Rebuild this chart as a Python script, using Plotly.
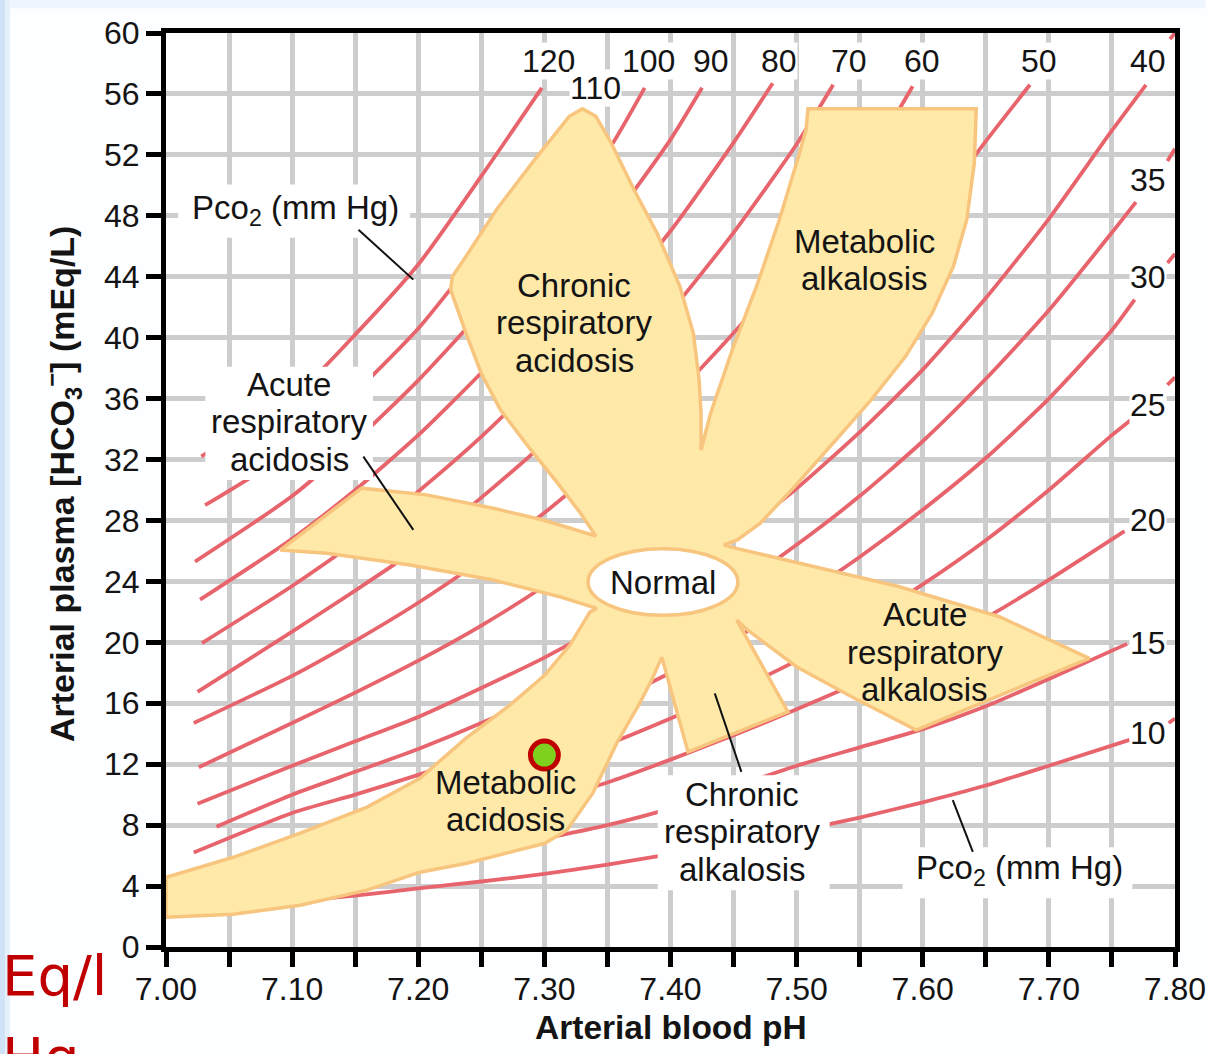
import plotly.graph_objects as go

# ---------------- data ----------------
pco2_levels = [120, 110, 100, 90, 80, 70, 60, 50, 40, 35, 30, 25, 20, 15, 10]

ph_120 = [7.028, 7.10, 7.15, 7.20, 7.25, 7.298]
hco3_120 = [32.2, 36.0, 40.2, 44.8, 50.6, 56.4]

ph_110 = [7.031, 7.10, 7.15, 7.20, 7.25, 7.30, 7.32]
hco3_110 = [29.0, 32.6, 36.4, 40.6, 45.8, 51.6, 54.0]

ph_100 = [7.023, 7.10, 7.15, 7.20, 7.25, 7.30, 7.35, 7.3795]
hco3_100 = [25.3, 29.6, 33.2, 37.2, 41.7, 46.8, 52.2, 56.4]

ph_90 = [7.027, 7.10, 7.15, 7.20, 7.25, 7.30, 7.35, 7.40, 7.425]
hco3_90 = [22.8, 26.8, 30.0, 33.6, 37.7, 42.3, 47.3, 53.0, 56.4]

ph_80 = [7.0285, 7.10, 7.15, 7.20, 7.25, 7.30, 7.35, 7.40, 7.45, 7.481]
hco3_80 = [19.95, 23.7, 26.6, 29.9, 33.5, 37.6, 42.1, 47.0, 52.8, 56.7]

ph_70 = [7.025, 7.10, 7.15, 7.20, 7.25, 7.30, 7.35, 7.40, 7.45, 7.50, 7.529]
hco3_70 = [16.75, 20.7, 23.4, 26.2, 29.5, 33.1, 37.1, 41.7, 46.9, 52.7, 56.6]

ph_60 = [7.022, 7.10, 7.15, 7.20, 7.25, 7.30, 7.35, 7.40, 7.45, 7.50, 7.55, 7.592]
hco3_60 = [14.7, 17.8, 20.1, 22.6, 25.4, 28.5, 32.0, 35.9, 40.3, 45.2, 50.7, 56.5]

ph_50 = [7.026, 7.10, 7.15, 7.20, 7.25, 7.30, 7.35, 7.40, 7.45, 7.50, 7.55, 7.60, 7.65, 7.685]
hco3_50 = [11.8, 14.7, 16.7, 18.8, 21.1, 23.7, 26.6, 29.8, 33.5, 37.6, 42.2, 47.3, 52.9, 56.6]

ph_40 = [7.025, 7.10, 7.15, 7.20, 7.25, 7.30, 7.35, 7.40, 7.45, 7.50, 7.55, 7.60, 7.65, 7.70, 7.75, 7.777, None, 7.796, 7.80]
hco3_40 = [9.4, 11.9, 13.5, 15.1, 17.0, 19.0, 21.3, 23.9, 26.9, 30.1, 33.8, 37.9, 42.6, 47.8, 53.6, 56.6, None, 59.6, 60.0]

ph_35 = [7.04, 7.10, 7.15, 7.20, 7.25, 7.30, 7.35, 7.40, 7.45, 7.50, 7.55, 7.60, 7.65, 7.70, 7.75, 7.769, None, 7.794, 7.80]
hco3_35 = [7.9, 10.0, 11.5, 13.0, 14.7, 16.6, 18.7, 20.9, 23.5, 26.4, 29.6, 33.2, 37.3, 41.8, 46.9, 48.9, None, 51.6, 52.4]

ph_30 = [7.022, 7.10, 7.15, 7.20, 7.25, 7.30, 7.35, 7.40, 7.45, 7.50, 7.55, 7.60, 7.65, 7.70, 7.75, 7.768, None, 7.794, 7.80]
hco3_30 = [6.2, 8.8, 10.0, 11.3, 12.7, 14.3, 16.0, 18.0, 20.2, 22.8, 25.6, 28.7, 32.1, 36.0, 40.5, 42.5, None, 44.9, 45.5]

ph_25 = [7.13, 7.20, 7.25, 7.30, 7.35, 7.40, 7.45, 7.50, 7.55, 7.60, 7.65, 7.70, 7.75, 7.765, None, 7.794, 7.80]
hco3_25 = [8.0, 9.4, 10.6, 11.9, 13.3, 15.0, 16.8, 18.8, 21.2, 23.8, 26.7, 30.0, 33.6, 34.6, None, 36.9, 37.4]

ph_20 = [7.04, 7.10, 7.15, 7.20, 7.25, 7.30, 7.35, 7.40, 7.45, 7.50, 7.55, 7.60, 7.65, 7.70, 7.76]
hco3_20 = [5.2, 6.0, 6.7, 7.6, 8.6, 9.6, 10.8, 12.3, 13.9, 15.6, 17.4, 19.3, 21.6, 24.1, 27.3]

ph_15 = [7.01, 7.10, 7.15, 7.20, 7.25, 7.30, 7.35, 7.40, 7.45, 7.50, 7.55, 7.60, 7.65, 7.70, 7.762]
hco3_15 = [3.65, 4.5, 5.05, 5.67, 6.36, 7.13, 8.0, 9.1, 10.5, 11.9, 13.1, 14.3, 15.8, 17.6, 19.9]

ph_10 = [7.01, 7.10, 7.15, 7.20, 7.25, 7.30, 7.35, 7.40, 7.45, 7.50, 7.55, 7.60, 7.65, 7.70, 7.764, None, 7.795, 7.80]
hco3_10 = [2.4, 3.0, 3.37, 3.85, 4.3, 4.8, 5.4, 6.1, 6.8, 7.6, 8.5, 9.5, 10.6, 11.9, 13.6, None, 14.7, 15.0]

# outline of the acid-base disorder regions (pH, HCO3-)
region_ph = [
    7.0905, 7.1552, 7.2067, 7.2595, 7.2991, 7.3408,
    7.3287, 7.3105, 7.2893, 7.2651, 7.2499, 7.2378, 7.2256, 7.2271, 7.2378, 7.2620, 7.2923, 7.3197, 7.3302,
    7.3408, 7.3530, 7.3711, 7.3893, 7.4075, 7.4181, 7.4227, 7.4242, 7.4242,
    7.4318, 7.4499, 7.4682, 7.4863, 7.5015, 7.5075, 7.5090, 7.6424, 7.6409, 7.6349, 7.6243, 7.6075,
    7.5863, 7.5591, 7.5288, 7.4984, 7.4712, 7.4530, 7.4423,
    7.4522, 7.5024, 7.5816, 7.6608, 7.7321, 7.5948, 7.5436, 7.4999, 7.4611, 7.4525,
    7.4931, 7.4139, 7.3931,
    7.3851, 7.3756, 7.3574, 7.3384, 7.3178, 7.3004, 7.2386, 7.2014, 7.1594, 7.1064, 7.0533, 7.0000,
    7.0000, 7.0533, 7.1064, 7.1594, 7.2014, 7.2379, 7.2727, 7.3004, 7.3202, 7.3361,
    7.3414, 7.3123, 7.2595, 7.1935, 7.1275, 7.0905,
]
region_hco3 = [
    26.06, 30.12, 29.68, 28.80, 28.03, 26.98,
    28.47, 30.45, 32.63, 35.26, 37.67, 40.30, 43.15, 44.02, 45.33, 48.40, 51.69, 54.53, 55.02,
    54.53, 52.78, 49.71, 46.87, 43.36, 40.30, 37.23, 35.04, 32.63,
    35.04, 39.42, 43.36, 47.74, 51.90, 53.66, 55.02, 55.02, 51.47, 47.74, 44.68, 41.61,
    38.76, 35.92, 33.07, 30.22, 27.82, 26.72, 26.39,
    26.17, 25.19, 23.65, 21.68, 18.95, 14.24, 16.43, 18.40, 20.81, 21.46,
    15.44, 12.81, 19.03,
    17.52, 16.01, 13.38, 10.10, 7.67, 6.81, 5.50, 4.91, 3.73, 2.74, 2.15, 1.95,
    4.58, 5.89, 7.47, 9.18, 11.08, 13.71, 15.88, 17.85, 19.82, 21.99,
    22.23, 22.99, 24.09, 25.08, 25.85, 26.06,
]

patient_ph = [7.30]
patient_hco3 = [12.6]

x_tick_vals = [7.00, 7.05, 7.10, 7.15, 7.20, 7.25, 7.30, 7.35, 7.40, 7.45, 7.50,
               7.55, 7.60, 7.65, 7.70, 7.75, 7.80]
x_tick_text = ["7.00", "", "7.10", "", "7.20", "", "7.30", "", "7.40", "", "7.50",
               "", "7.60", "", "7.70", "", "7.80"]
y_tick_vals = [0, 4, 8, 12, 16, 20, 24, 28, 32, 36, 40, 44, 48, 52, 56, 60]
y_tick_text = [str(v) for v in y_tick_vals]

curves = [
    (120, ph_120, hco3_120), (110, ph_110, hco3_110), (100, ph_100, hco3_100),
    (90, ph_90, hco3_90), (80, ph_80, hco3_80), (70, ph_70, hco3_70),
    (60, ph_60, hco3_60), (50, ph_50, hco3_50), (40, ph_40, hco3_40),
    (35, ph_35, hco3_35), (30, ph_30, hco3_30), (25, ph_25, hco3_25),
    (20, ph_20, hco3_20), (15, ph_15, hco3_15), (10, ph_10, hco3_10),
]

# ---------------- styling / layout ----------------
FONT = "Liberation Sans, Arial, Helvetica, sans-serif"
TXT = "#141414"
CURVE = "#e8646c"
FILL = "#fee9a9"
EDGE = "#f8c57f"
LINE_GAP = 37.5  # px between text lines of the region labels
LABEL_SIZE = 33

fig = go.Figure()

for level, xs, ys in curves:
    fig.add_trace(go.Scatter(
        x=xs, y=ys, mode="lines", name=f"Pco2 {level}",
        line=dict(color=CURVE, width=3.8, shape="spline", smoothing=0.6),
        connectgaps=False, hoverinfo="skip", showlegend=False))

fig.add_trace(go.Scatter(
    x=region_ph, y=region_hco3, mode="lines", fill="toself",
    fillcolor=FILL, line=dict(color=EDGE, width=3.5),
    hoverinfo="skip", showlegend=False))

fig.add_trace(go.Scatter(
    x=patient_ph, y=patient_hco3, mode="markers",
    marker=dict(size=28, color="#7fd11f", line=dict(color="#c00000", width=5)),
    hoverinfo="skip", showlegend=False))

axis_common = dict(
    ticks="outside", ticklen=15, tickwidth=5, tickcolor="black",
    showline=True, linewidth=5, linecolor="black", mirror=True,
    showgrid=True, gridcolor="#cdcdcd", gridwidth=5, zeroline=False,
    automargin=False,
    tickfont=dict(family=FONT, size=32, color=TXT),
)

shapes = [
    dict(type="rect", xref="paper", yref="paper", x0=-0.1646, x1=-0.1596, y0=-0.12, y1=1.04,
         fillcolor="#cfe2f6", line=dict(width=0), layer="below"),
    dict(type="rect", xref="paper", yref="paper", x0=-0.1596, x1=-0.1546, y0=-0.12, y1=1.04,
         fillcolor="#e5f0fb", line=dict(width=0), layer="below"),
    dict(type="rect", xref="paper", yref="paper", x0=-0.1546, x1=1.03, y0=1.027, y1=1.04,
         fillcolor="#eef5fc", line=dict(width=0), layer="below"),
]
# white label boxes
for x0, x1, y0, y1 in [(7.0312, 7.1641, 30.65, 38.09),
                       (7.3899, 7.5262, 3.73, 11.28),
                       (7.0097, 7.1935, 46.56, 50.05),
                       (7.5840, 7.7662, 3.20, 6.55)]:
    shapes.append(dict(type="rect", xref="x", yref="y", x0=x0, x1=x1, y0=y0, y1=y1,
                       fillcolor="white", line=dict(width=0), layer="above"))
# Normal ellipse
shapes.append(dict(type="circle", xref="x", yref="y", x0=7.3346, x1=7.4534, y0=21.77, y1=26.15,
                   fillcolor="white", line=dict(color=EDGE, width=3.5), layer="above"))
# pointer lines
for x0, y0, x1, y1 in [(7.1526, 47.09, 7.1961, 43.81),
                       (7.1565, 32.19, 7.1961, 27.38),
                       (7.4351, 16.65, 7.4562, 11.50),
                       (7.6238, 9.64, 7.6397, 6.24)]:
    shapes.append(dict(type="line", xref="x", yref="y", x0=x0, y0=y0, x1=x1, y1=y1,
                       line=dict(color="#111111", width=2), layer="above"))

annotations = []
num_labels = [("120", 7.3036, 58.13), ("110", 7.3408, 56.42), ("100", 7.3828, 58.13),
              ("90", 7.4319, 58.13), ("80", 7.4858, 58.13), ("70", 7.5412, 58.13),
              ("60", 7.5991, 58.13), ("50", 7.6918, 58.13), ("40", 7.7789, 58.13),
              ("35", 7.7789, 50.37), ("30", 7.7789, 44.0), ("25", 7.7789, 35.6),
              ("20", 7.7789, 28.03), ("15", 7.7789, 19.95), ("10", 7.7789, 14.04)]
for t, x, y in num_labels:
    annotations.append(dict(text=t, x=x, y=y, xref="x", yref="y", showarrow=False,
                            bgcolor="white", borderpad=0,
                            font=dict(family=FONT, size=32, color=TXT)))

region_labels = [
    (["Chronic", "respiratory", "acidosis"], 7.3235, 40.97),
    (["Metabolic", "alkalosis"], 7.554, 45.10),
    (["Acute", "respiratory", "acidosis"], 7.0977, 34.47),
    (["Normal"], 7.394, 23.96),
    (["Acute", "respiratory", "alkalosis"], 7.6014, 19.36),
    (["Metabolic", "acidosis"], 7.2688, 9.57),
    (["Chronic", "respiratory", "alkalosis"], 7.4567, 7.55),
    (["Pco<sub>2</sub> (mm Hg)"], 7.1025, 48.35),
    (["Pco<sub>2</sub> (mm Hg)"], 7.6767, 5.04),
]
for lines, x, y in region_labels:
    n = len(lines)
    for i, t in enumerate(lines):
        shift = ((n - 1) / 2.0 - i) * LINE_GAP
        annotations.append(dict(text=t, x=x, y=y, xref="x", yref="y", showarrow=False,
                                yshift=shift, font=dict(family=FONT, size=LABEL_SIZE, color=TXT)))

annotations.append(dict(text="<b>Arterial blood pH</b>", xref="paper", yref="paper",
                        x=0.5, y=-0.0885, showarrow=False, xanchor="center", yanchor="middle",
                        font=dict(family=FONT, size=33.5, color=TXT)))
annotations.append(dict(text="<b>Arterial plasma [HCO<sub>3</sub><sup>−</sup>] (mEq/L)</b>",
                        xref="paper", yref="paper", x=-0.103, y=0.5066, textangle=-90,
                        showarrow=False, xanchor="center", yanchor="middle",
                        font=dict(family=FONT, size=34, color=TXT)))
annotations.append(dict(text="Eq/l", xref="paper", yref="paper", x=-0.1645, y=-0.0317,
                        xanchor="left", yanchor="middle", showarrow=False,
                        font=dict(family="DejaVu Sans", size=56, color="#c00000")))
annotations.append(dict(text="Hg", xref="paper", yref="paper", x=-0.1645, y=-0.1208,
                        xanchor="left", yanchor="middle", showarrow=False,
                        font=dict(family="DejaVu Sans", size=56, color="#c00000")))

fig.update_layout(
    width=1209, height=1054, autosize=False,
    margin=dict(l=166, r=34, t=33, b=107, pad=0),
    paper_bgcolor="#fdfeff", plot_bgcolor="white",
    xaxis=dict(range=[7.0, 7.8], tickvals=x_tick_vals, ticktext=x_tick_text,
               ticklabelstandoff=-5, **axis_common),
    yaxis=dict(range=[0, 60], tickvals=y_tick_vals, ticktext=y_tick_text, **axis_common),
    shapes=shapes, annotations=annotations, showlegend=False,
)

fig.write_html("out.html", config={"displayModeBar": False},
               post_script="document.body.style.margin='0px';")
